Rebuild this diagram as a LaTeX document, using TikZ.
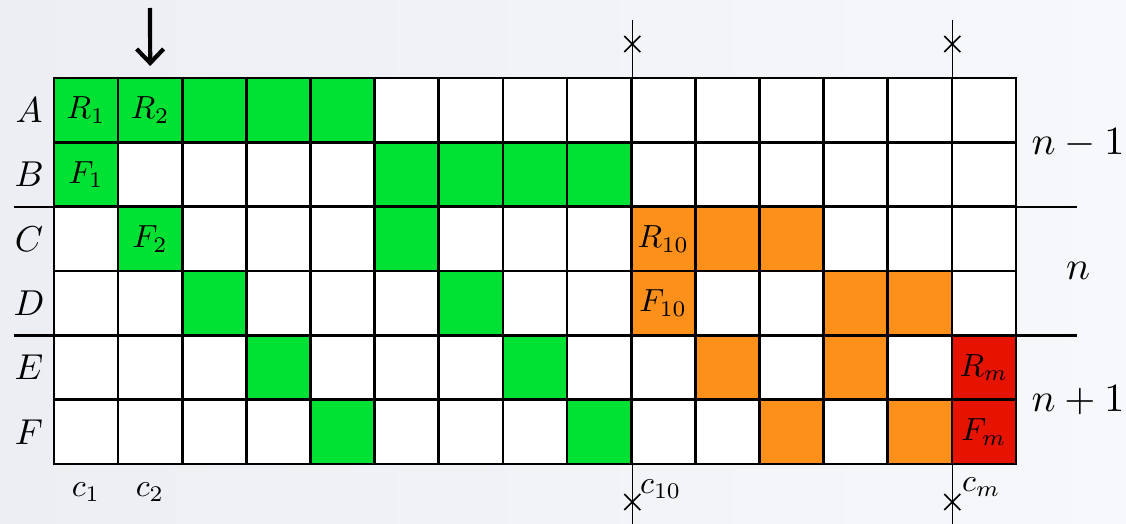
\RequirePackage{fix-cm}
\documentclass[tikz,border=0pt]{standalone}
\usepackage{graphicx}
\usetikzlibrary{arrows.meta}
\definecolor{cG}{HTML}{00E233}
\definecolor{cO}{HTML}{FC901B}
\definecolor{cR}{HTML}{E61300}
\definecolor{cW}{HTML}{FFFFFF}
\definecolor{bgA}{HTML}{ECEEF3}
\definecolor{bgB}{HTML}{F7F8FB}
\newcommand{\myscl}[2]{\scalebox{#1}{\normalsize$#2$}}
\begin{document}
\begin{tikzpicture}[x=1pt,y=-1pt,
  cell/.style={draw=black, line width=2.6pt, minimum width=64.13pt, minimum height=64.33pt, inner sep=0pt},
  celltext/.style={inner sep=0pt},
  rowlab/.style={inner sep=0pt},
  grouplab/.style={inner sep=0pt},
  collab/.style={inner sep=0pt},
  sepline/.style={line width=2.2pt},
  cutline/.style={line width=1.3pt},
  crossmark/.style={line width=1.6pt}]
\useasboundingbox (0,0) rectangle (1126,524);
\shade[left color=bgA, right color=bgB] (0,0) rectangle (1126,524);
% grid
\foreach \c [count=\j] in {cG,cG,cG,cG,cG,cW,cW,cW,cW,cW,cW,cW,cW,cW,cW}
  \node[cell, fill=\c] (A-\j) at ({54+64.13*(\j-0.5)},110.17) {};
\foreach \c [count=\j] in {cG,cW,cW,cW,cW,cG,cG,cG,cG,cW,cW,cW,cW,cW,cW}
  \node[cell, fill=\c] (B-\j) at ({54+64.13*(\j-0.5)},174.5) {};
\foreach \c [count=\j] in {cW,cG,cW,cW,cW,cG,cW,cW,cW,cO,cO,cO,cW,cW,cW}
  \node[cell, fill=\c] (C-\j) at ({54+64.13*(\j-0.5)},238.83) {};
\foreach \c [count=\j] in {cW,cW,cG,cW,cW,cW,cG,cW,cW,cO,cW,cW,cO,cO,cW}
  \node[cell, fill=\c] (D-\j) at ({54+64.13*(\j-0.5)},303.17) {};
\foreach \c [count=\j] in {cW,cW,cW,cG,cW,cW,cW,cG,cW,cW,cO,cW,cO,cW,cR}
  \node[cell, fill=\c] (E-\j) at ({54+64.13*(\j-0.5)},367.5) {};
\foreach \c [count=\j] in {cW,cW,cW,cW,cG,cW,cW,cW,cG,cW,cW,cO,cW,cO,cR}
  \node[cell, fill=\c] (F-\j) at ({54+64.13*(\j-0.5)},431.83) {};
% cell labels
\node[celltext] (tR1) at (A-1) {\myscl{3.2}{R_1}};
\node[celltext] (tR2) at (A-2) {\myscl{3.2}{R_2}};
\node[celltext] (tF1) at (B-1) {\myscl{3.2}{F_1}};
\node[celltext] (tF2) at (C-2) {\myscl{3.2}{F_2}};
\node[celltext] (tR10) at (C-10) {\myscl{3.2}{R_{10}}};
\node[celltext] (tF10) at (D-10) {\myscl{3.2}{F_{10}}};
\node[celltext] (tRm) at (E-15) {\myscl{3.2}{R_m}};
\node[celltext] (tFm) at (F-15) {\myscl{3.2}{F_m}};
% row labels
\foreach \r in {A,B,C,D,E,F}
  \node[rowlab] (l\r) at ([xshift=-57pt]\r-1.center) {\myscl{3.6}{\r}};
% group separators
\coordinate (s1l) at (14,207);
\coordinate (s1r) at (1077,207);
\coordinate (s2l) at (14,335.5);
\coordinate (s2r) at (1077,335.5);
\draw[sepline] (s1l) -- (s1r);
\draw[sepline] (s2l) -- (s2r);
\node[grouplab] (gn1) at (1078,143) {\myscl{4}{n-1}};
\node[grouplab] (gn) at (1078,271) {\myscl{4}{n}};
\node[grouplab] (gn2) at (1078,400) {\myscl{4}{n+1}};
% cut lines
\coordinate (k10t) at (632.3,20);
\coordinate (k10b) at (632.3,524);
\coordinate (kmt) at (952.3,20);
\coordinate (kmb) at (952.3,524);
\draw[cutline] (k10t) -- (k10b);
\draw[cutline] (kmt) -- (kmb);
\foreach \p in {k10t,kmt}{
  \draw[crossmark] ([shift={(-8,16)}]\p) -- ([shift={(8,32)}]\p);
  \draw[crossmark] ([shift={(-8,32)}]\p) -- ([shift={(8,16)}]\p);
}
\foreach \p in {k10b,kmb}{
  \draw[crossmark] ([shift={(-8,-30)}]\p) -- ([shift={(8,-14)}]\p);
  \draw[crossmark] ([shift={(-8,-14)}]\p) -- ([shift={(8,-30)}]\p);
}
% column labels
\node[collab] (c1) at (86,492) {\myscl{3.2}{c_1}};
\node[collab] (c2) at (150,492) {\myscl{3.2}{c_2}};
\node[collab, anchor=west] (c10) at (640,489) {\myscl{3.2}{c_{10}}};
\node[collab, anchor=west] (cm) at (962,487) {\myscl{3.2}{c_m}};
% arrow
\coordinate (arT) at (150,8);
\draw[line width=4.2pt, -{Straight Barb[length=14pt,width=27pt,line width=4.2pt]}] (arT) -- (A-2.north |- 0,66);
\end{tikzpicture}
\end{document}
